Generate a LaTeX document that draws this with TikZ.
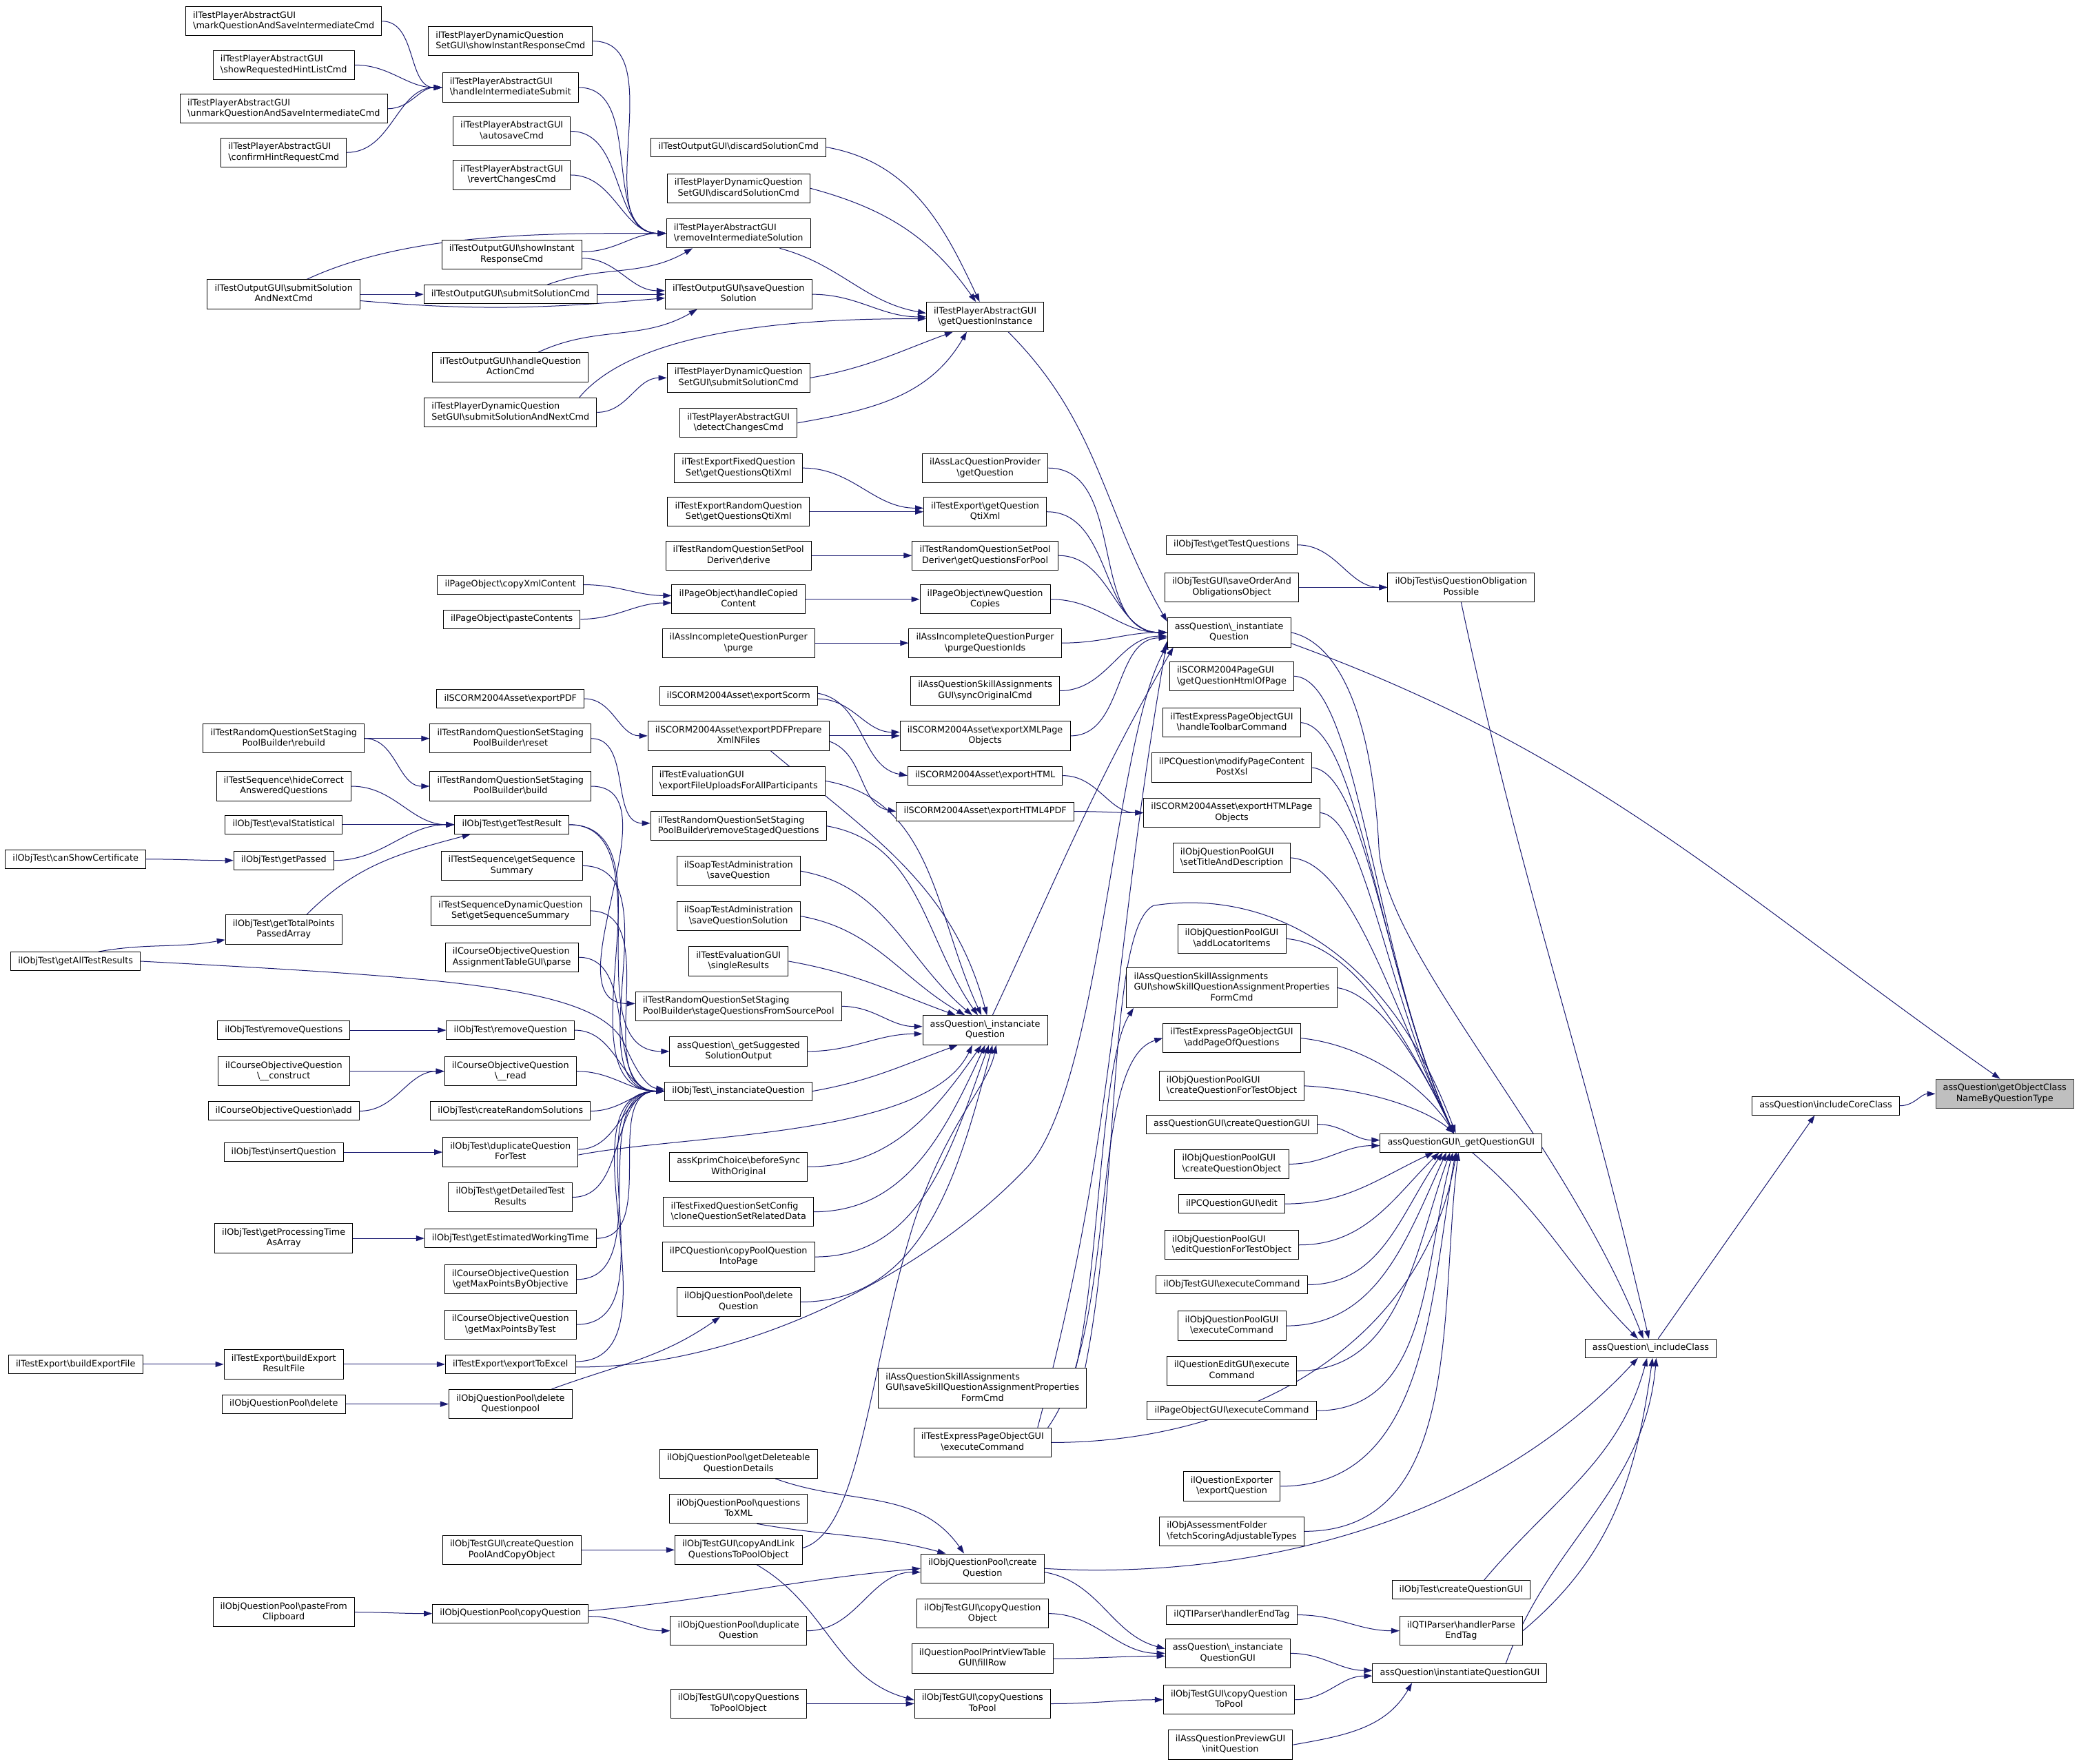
\documentclass[tikz,border=0pt]{standalone}
\usepackage{fontspec}
\setmainfont{DejaVu Sans}
\usetikzlibrary{arrows.meta}
\usetikzlibrary{backgrounds}
\definecolor{callblue}{HTML}{191970}
\definecolor{hitgrey}{HTML}{BFBFBF}
\definecolor{hitedge}{HTML}{404040}
\newcommand{\bsl}{\textbackslash}
\newcommand{\oneline}[1]{\begin{tabular}{@{}c@{}}#1\end{tabular}}
\newcommand{\twolines}[2]{\begin{tabular}{@{}l@{}}#1\\\multicolumn{1}{@{}c@{}}{#2}\end{tabular}}
\newcommand{\threelines}[3]{\begin{tabular}{@{}l@{}}#1\\#2\\\multicolumn{1}{@{}c@{}}{#3}\end{tabular}}

\begin{document}
\begin{tikzpicture}[x=1.443pt, y=-1.443pt,
    fn/.style={draw=black, fill=white, line width=0.75pt, inner xsep=8pt, inner ysep=4.3pt,
      font=\fontsize{9.6}{11.6}\selectfont},
    hit/.style={fn, fill=hitgrey, draw=hitedge},
    call/.style={draw=callblue, line width=0.75pt, -{Triangle[length=9pt,width=6pt]}, out=0, in=180}]
    \useasboundingbox (0, 0) rectangle (1568, 1330);

    % player and output commands
    \node[fn] (mark) at (214, 16) {\twolines{ilTestPlayerAbstractGUI}{\bsl markQuestionAndSaveIntermediateCmd}};
    \node[fn] (showhint) at (214, 49) {\twolines{ilTestPlayerAbstractGUI}{\bsl showRequestedHintListCmd}};
    \node[fn] (unmark) at (214, 82) {\twolines{ilTestPlayerAbstractGUI}{\bsl unmarkQuestionAndSaveIntermediateCmd}};
    \node[fn] (confirm) at (214, 115) {\twolines{ilTestPlayerAbstractGUI}{\bsl confirmHintRequestCmd}};
    \node[fn] (dynshow) at (385, 31) {\twolines{ilTestPlayerDynamicQuestion}{SetGUI\bsl showInstantResponseCmd}};
    \node[fn] (handleim) at (385, 66) {\twolines{ilTestPlayerAbstractGUI}{\bsl handleIntermediateSubmit}};
    \node[fn] (autosave) at (386, 99) {\twolines{ilTestPlayerAbstractGUI}{\bsl autosaveCmd}};
    \node[fn] (revert) at (386, 132) {\twolines{ilTestPlayerAbstractGUI}{\bsl revertChangesCmd}};
    \node[fn] (discard) at (557, 111) {\oneline{ilTestOutputGUI\bsl discardSolutionCmd}};
    \node[fn] (dyndiscard) at (557, 142) {\twolines{ilTestPlayerDynamicQuestion}{SetGUI\bsl discardSolutionCmd}};
    \node[fn] (removeim) at (557, 176) {\twolines{ilTestPlayerAbstractGUI}{\bsl removeIntermediateSolution}};
    \node[fn] (submitnext) at (214, 222) {\twolines{ilTestOutputGUI\bsl submitSolution}{AndNextCmd}};
    \node[fn] (showinst) at (386, 192) {\twolines{ilTestOutputGUI\bsl showInstant}{ResponseCmd}};
    \node[fn] (submitcmd) at (385, 222) {\oneline{ilTestOutputGUI\bsl submitSolutionCmd}};
    \node[fn] (savesol) at (557, 222) {\twolines{ilTestOutputGUI\bsl saveQuestion}{Solution}};
    \node[fn] (getinst) at (743, 239) {\twolines{ilTestPlayerAbstractGUI}{\bsl getQuestionInstance}};
    \node[fn] (handleact) at (385, 277) {\twolines{ilTestOutputGUI\bsl handleQuestion}{ActionCmd}};
    \node[fn] (dynsubnext) at (385, 311) {\twolines{ilTestPlayerDynamicQuestion}{SetGUI\bsl submitSolutionAndNextCmd}};
    \node[fn] (dynsub) at (557, 285) {\twolines{ilTestPlayerDynamicQuestion}{SetGUI\bsl submitSolutionCmd}};
    \node[fn] (detect) at (557, 319) {\twolines{ilTestPlayerAbstractGUI}{\bsl detectChangesCmd}};

    % export, pool deriver, page objects
    \node[fn] (fixedqti) at (557, 353) {\twolines{ilTestExportFixedQuestion}{Set\bsl getQuestionsQtiXml}};
    \node[fn] (lac) at (743, 353) {\twolines{ilAssLacQuestionProvider}{\bsl getQuestion}};
    \node[fn] (randqti) at (557, 386) {\twolines{ilTestExportRandomQuestion}{Set\bsl getQuestionsQtiXml}};
    \node[fn] (getqti) at (743, 386) {\twolines{ilTestExport\bsl getQuestion}{QtiXml}};
    \node[fn] (derive) at (557, 419) {\twolines{ilTestRandomQuestionSetPool}{Deriver\bsl derive}};
    \node[fn] (forpool) at (743, 419) {\twolines{ilTestRandomQuestionSetPool}{Deriver\bsl getQuestionsForPool}};
    \node[fn] (copyxml) at (385, 441) {\oneline{ilPageObject\bsl copyXmlContent}};
    \node[fn] (paste) at (386, 467) {\oneline{ilPageObject\bsl pasteContents}};
    \node[fn] (handlecopied) at (557, 452) {\twolines{ilPageObject\bsl handleCopied}{Content}};
    \node[fn] (newcopies) at (743, 452) {\twolines{ilPageObject\bsl newQuestion}{Copies}};
    \node[fn] (purge) at (557, 485) {\twolines{ilAssIncompleteQuestionPurger}{\bsl purge}};
    \node[fn] (purgeids) at (743, 485) {\twolines{ilAssIncompleteQuestionPurger}{\bsl purgeQuestionIds}};
    \node[fn] (sync) at (743, 521) {\twolines{ilAssQuestionSkillAssignments}{GUI\bsl syncOriginalCmd}};
    \node[fn] (instq) at (927, 477) {\twolines{assQuestion\bsl\_instantiate}{Question}};
    \node[fn] (gettestq) at (929, 411) {\oneline{ilObjTest\bsl getTestQuestions}};
    \node[fn] (saveorder) at (929, 443) {\twolines{ilObjTestGUI\bsl saveOrderAnd}{ObligationsObject}};
    \node[fn] (obligation) at (1102, 443) {\twolines{ilObjTest\bsl isQuestionObligation}{Possible}};

    % scorm
    \node[fn] (exportpdf) at (385, 527) {\oneline{ilSCORM2004Asset\bsl exportPDF}};
    \node[fn] (exportscorm) at (557, 525) {\oneline{ilSCORM2004Asset\bsl exportScorm}};
    \node[fn] (pdfprepare) at (557, 555) {\twolines{ilSCORM2004Asset\bsl exportPDFPrepare}{XmlNFiles}};
    \node[fn] (xmlpage) at (743, 555) {\twolines{ilSCORM2004Asset\bsl exportXMLPage}{Objects}};
    \node[fn] (exporthtml) at (743, 585) {\oneline{ilSCORM2004Asset\bsl exportHTML}};
    \node[fn] (html4pdf) at (743, 612) {\oneline{ilSCORM2004Asset\bsl exportHTML4PDF}};
    \node[fn] (htmlpage) at (929, 613) {\twolines{ilSCORM2004Asset\bsl exportHTMLPage}{Objects}};
    \node[fn] (scormpage) at (929, 510) {\twolines{ilSCORM2004PageGUI}{\bsl getQuestionHtmlOfPage}};
    \node[fn] (toolbar) at (929, 545) {\twolines{ilTestExpressPageObjectGUI}{\bsl handleToolbarCommand}};
    \node[fn] (modify) at (929, 579) {\twolines{ilPCQuestion\bsl modifyPageContent}{PostXsl}};
    \node[fn] (settitle) at (929, 647) {\twolines{ilObjQuestionPoolGUI}{\bsl setTitleAndDescription}};

    % test results, staging pool
    \node[fn] (rebuild) at (214, 557) {\twolines{ilTestRandomQuestionSetStaging}{PoolBuilder\bsl rebuild}};
    \node[fn] (reset) at (385, 557) {\twolines{ilTestRandomQuestionSetStaging}{PoolBuilder\bsl reset}};
    \node[fn] (hidecorrect) at (214, 593) {\twolines{ilTestSequence\bsl hideCorrect}{AnsweredQuestions}};
    \node[fn] (build) at (385, 593) {\twolines{ilTestRandomQuestionSetStaging}{PoolBuilder\bsl build}};
    \node[fn] (evalstat) at (214, 622) {\oneline{ilObjTest\bsl evalStatistical}};
    \node[fn] (testresult) at (386, 622) {\oneline{ilObjTest\bsl getTestResult}};
    \node[fn] (certificate) at (57, 648) {\oneline{ilObjTest\bsl canShowCertificate}};
    \node[fn] (passed) at (214, 649) {\oneline{ilObjTest\bsl getPassed}};
    \node[fn] (totalpoints) at (214, 701) {\twolines{ilObjTest\bsl getTotalPoints}{PassedArray}};
    \node[fn] (alltestresults) at (57, 725) {\oneline{ilObjTest\bsl getAllTestResults}};
    \node[fn] (uploads) at (557, 589) {\twolines{ilTestEvaluationGUI}{\bsl exportFileUploadsForAllParticipants}};
    \node[fn] (removestaged) at (557, 623) {\twolines{ilTestRandomQuestionSetStaging}{PoolBuilder\bsl removeStagedQuestions}};
    \node[fn] (seqsummary) at (386, 653) {\twolines{ilTestSequence\bsl getSequence}{Summary}};
    \node[fn] (dynseqsummary) at (385, 687) {\twolines{ilTestSequenceDynamicQuestion}{Set\bsl getSequenceSummary}};
    \node[fn] (courseparse) at (386, 722) {\twolines{ilCourseObjectiveQuestion}{AssignmentTableGUI\bsl parse}};
    \node[fn] (soapsave) at (557, 657) {\twolines{ilSoapTestAdministration}{\bsl saveQuestion}};
    \node[fn] (soapsavesol) at (557, 691) {\twolines{ilSoapTestAdministration}{\bsl saveQuestionSolution}};
    \node[fn] (singleres) at (557, 725) {\twolines{ilTestEvaluationGUI}{\bsl singleResults}};
    \node[fn] (stage) at (557, 759) {\twolines{ilTestRandomQuestionSetStaging}{PoolBuilder\bsl stageQuestionsFromSourcePool}};
    \node[fn] (suggested) at (557, 793) {\twolines{assQuestion\bsl\_getSuggested}{SolutionOutput}};
    \node[fn] (instanciq) at (743, 777) {\twolines{assQuestion\bsl\_instanciate}{Question}};
    \node[fn] (removeqs) at (214, 777) {\oneline{ilObjTest\bsl removeQuestions}};
    \node[fn] (removeq) at (385, 777) {\oneline{ilObjTest\bsl removeQuestion}};
    \node[fn] (courseconstruct) at (214, 808) {\twolines{ilCourseObjectiveQuestion}{\bsl\_\_construct}};
    \node[fn] (courseread) at (385, 808) {\twolines{ilCourseObjectiveQuestion}{\bsl\_\_read}};
    \node[fn] (courseadd) at (214, 838) {\oneline{ilCourseObjectiveQuestion\bsl add}};
    \node[fn] (randomsol) at (385, 838) {\oneline{ilObjTest\bsl createRandomSolutions}};
    \node[fn] (testinstanciate) at (557, 823) {\oneline{ilObjTest\bsl\_instanciateQuestion}};
    \node[fn] (insertq) at (214, 869) {\oneline{ilObjTest\bsl insertQuestion}};
    \node[fn] (duplicatefortest) at (385, 869) {\twolines{ilObjTest\bsl duplicateQuestion}{ForTest}};
    \node[fn] (kprim) at (557, 880) {\twolines{assKprimChoice\bsl beforeSync}{WithOriginal}};
    \node[fn] (detailed) at (385, 903) {\twolines{ilObjTest\bsl getDetailedTest}{Results}};
    \node[fn] (fixedclone) at (557, 914) {\twolines{ilTestFixedQuestionSetConfig}{\bsl cloneQuestionSetRelatedData}};
    \node[fn] (proctime) at (214, 934) {\twolines{ilObjTest\bsl getProcessingTime}{AsArray}};
    \node[fn] (worktime) at (385, 934) {\oneline{ilObjTest\bsl getEstimatedWorkingTime}};
    \node[fn] (copypoolq) at (557, 948) {\twolines{ilPCQuestion\bsl copyPoolQuestion}{IntoPage}};
    \node[fn] (maxobjective) at (385, 965) {\twolines{ilCourseObjectiveQuestion}{\bsl getMaxPointsByObjective}};
    \node[fn] (deleteq) at (557, 982) {\twolines{ilObjQuestionPool\bsl delete}{Question}};
    \node[fn] (maxtest) at (385, 999) {\twolines{ilCourseObjectiveQuestion}{\bsl getMaxPointsByTest}};
    \node[fn] (buildfile) at (57, 1029) {\oneline{ilTestExport\bsl buildExportFile}};
    \node[fn] (buildresult) at (214, 1029) {\twolines{ilTestExport\bsl buildExport}{ResultFile}};
    \node[fn] (toexcel) at (385, 1029) {\oneline{ilTestExport\bsl exportToExcel}};
    \node[fn] (pooldelete) at (214, 1059) {\oneline{ilObjQuestionPool\bsl delete}};
    \node[fn] (deletepool) at (385, 1059) {\twolines{ilObjQuestionPool\bsl delete}{Questionpool}};

    % question GUI callers
    \node[fn] (locator) at (929, 708) {\twolines{ilObjQuestionPoolGUI}{\bsl addLocatorItems}};
    \node[fn] (showskill) at (929, 745) {\threelines{ilAssQuestionSkillAssignments}{GUI\bsl showSkillQuestionAssignmentProperties}{FormCmd}};
    \node[fn] (addpage) at (929, 783) {\twolines{ilTestExpressPageObjectGUI}{\bsl addPageOfQuestions}};
    \node[fn] (createfortest) at (929, 819) {\twolines{ilObjQuestionPoolGUI}{\bsl createQuestionForTestObject}};
    \node[fn] (createqgui) at (929, 848) {\oneline{assQuestionGUI\bsl createQuestionGUI}};
    \node[fn] (createobj) at (929, 878) {\twolines{ilObjQuestionPoolGUI}{\bsl createQuestionObject}};
    \node[fn] (pcedit) at (929, 908) {\oneline{ilPCQuestionGUI\bsl edit}};
    \node[fn] (editfortest) at (929, 939) {\twolines{ilObjQuestionPoolGUI}{\bsl editQuestionForTestObject}};
    \node[fn] (testguiexec) at (929, 969) {\oneline{ilObjTestGUI\bsl executeCommand}};
    \node[fn] (poolguiexec) at (929, 1000) {\twolines{ilObjQuestionPoolGUI}{\bsl executeCommand}};
    \node[fn] (editguiexec) at (929, 1034) {\twolines{ilQuestionEditGUI\bsl execute}{Command}};
    \node[fn] (pageguiexec) at (929, 1064) {\oneline{ilPageObjectGUI\bsl executeCommand}};
    \node[fn] (getqgui) at (1102, 862) {\oneline{assQuestionGUI\bsl\_getQuestionGUI}};
    \node[fn] (saveskill) at (741, 1047) {\threelines{ilAssQuestionSkillAssignments}{GUI\bsl saveSkillQuestionAssignmentProperties}{FormCmd}};
    \node[fn] (expressexec) at (741, 1088) {\twolines{ilTestExpressPageObjectGUI}{\bsl executeCommand}};
    \node[fn] (exporter) at (929, 1121) {\twolines{ilQuestionExporter}{\bsl exportQuestion}};
    \node[fn] (scoring) at (929, 1155) {\twolines{ilObjAssessmentFolder}{\bsl fetchScoringAdjustableTypes}};
    \node[fn] (include) at (1245, 1017) {\oneline{assQuestion\bsl\_includeClass}};
    \node[fn] (corecls) at (1377, 834) {\oneline{assQuestion\bsl includeCoreClass}};
    \node[hit] (target) at (1512, 825) {\twolines{assQuestion\bsl getObjectClass}{NameByQuestionType}};

    % question pool
    \node[fn] (deleteable) at (557, 1104) {\twolines{ilObjQuestionPool\bsl getDeleteable}{QuestionDetails}};
    \node[fn] (toxml) at (557, 1138) {\twolines{ilObjQuestionPool\bsl questions}{ToXML}};
    \node[fn] (createpool) at (386, 1169) {\twolines{ilObjTestGUI\bsl createQuestion}{PoolAndCopyObject}};
    \node[fn] (copylink) at (557, 1169) {\twolines{ilObjTestGUI\bsl copyAndLink}{QuestionsToPoolObject}};
    \node[fn] (createq) at (741, 1183) {\twolines{ilObjQuestionPool\bsl create}{Question}};
    \node[fn] (pastefrom) at (214, 1216) {\twolines{ilObjQuestionPool\bsl pasteFrom}{Clipboard}};
    \node[fn] (copyq) at (385, 1217) {\oneline{ilObjQuestionPool\bsl copyQuestion}};
    \node[fn] (duplicateq) at (557, 1230) {\twolines{ilObjQuestionPool\bsl duplicate}{Question}};
    \node[fn] (copyqobj) at (741, 1217) {\twolines{ilObjTestGUI\bsl copyQuestion}{Object}};
    \node[fn] (printview) at (741, 1251) {\twolines{ilQuestionPoolPrintViewTable}{GUI\bsl fillRow}};
    \node[fn] (topoolobj) at (557, 1285) {\twolines{ilObjTestGUI\bsl copyQuestions}{ToPoolObject}};
    \node[fn] (topool) at (741, 1285) {\twolines{ilObjTestGUI\bsl copyQuestions}{ToPool}};
    \node[fn] (instanciqgui) at (926, 1247) {\twolines{assQuestion\bsl\_instanciate}{QuestionGUI}};
    \node[fn] (copyqtopool) at (927, 1282) {\twolines{ilObjTestGUI\bsl copyQuestion}{ToPool}};
    \node[fn] (preview) at (928, 1316) {\twolines{ilAssQuestionPreviewGUI}{\bsl initQuestion}};
    \node[fn] (testcreategui) at (1102, 1199) {\oneline{ilObjTest\bsl createQuestionGUI}};
    \node[fn] (endtag) at (929, 1218) {\oneline{ilQTIParser\bsl handlerEndTag}};
    \node[fn] (parseend) at (1102, 1230) {\twolines{ilQTIParser\bsl handlerParse}{EndTag}};
    \node[fn] (instgui) at (1101, 1262) {\oneline{assQuestion\bsl instantiateQuestionGUI}};

    \begin{scope}[on background layer]
    \fill[white] (0, 0) rectangle (1568, 1330);

    % player and output commands
    \draw[call] (mark.east) to (handleim.west);
    \draw[call] (showhint.east) to (handleim.west);
    \draw[call] (unmark.east) to (handleim.west);
    \draw[call] (confirm.east) to (handleim.west);
    \draw[call] (handleim.east) to (removeim.west);
    \draw[call] (dynshow.east) to (removeim.west);
    \draw[call] (autosave.east) to (removeim.west);
    \draw[call] (revert.east) to (removeim.west);
    \draw[call] ([xshift=25pt]submitnext.north) to[out=25, in=180, looseness=0.8] (removeim.west);
    \draw[call] ([yshift=3pt]showinst.east) to (removeim.west);
    \draw[call] ([xshift=40pt]submitcmd.north) to[out=20, in=-150] ([xshift=-50pt]removeim.south);
    \draw[call] ([yshift=-4pt]showinst.east) to ([yshift=4pt]savesol.west);
    \draw[call] (submitnext.east) to (submitcmd.west);
    \draw[call] (submitcmd.east) to (savesol.west);
    \draw[call] ([yshift=-7pt]submitnext.east) to[out=-5, in=185] ([yshift=-4pt]savesol.west);
    \draw[call] ([xshift=30pt]handleact.north) to[out=25, in=-150] ([xshift=-45pt]savesol.south);
    \draw[call] (dynsubnext.east) to (dynsub.west);
    \draw[call] ([xshift=75pt]dynsubnext.north) to[out=50, in=180, looseness=0.7] ([yshift=-2pt]getinst.west);
    \draw[call] (discard.east) to[out=-10, in=115] ([xshift=-6pt]getinst.north);
    \draw[call] (dyndiscard.east) to[out=-15, in=125] ([xshift=-10pt]getinst.north);
    \draw[call] (removeim.-20) to[out=-15, in=170] ([yshift=4pt]getinst.west);
    \draw[call] (savesol.east) to (getinst.west);
    \draw[call] (dynsub.east) to[out=10, in=-160] ([xshift=-35pt]getinst.south);
    \draw[call] (detect.east) to[out=10, in=-120] ([xshift=-20pt]getinst.south);
    \draw[call] ([xshift=25pt]getinst.south) to[out=-45, in=120] (instq.170);

    % export, pool deriver, page objects
    \draw[call] (fixedqti.east) to ([yshift=4pt]getqti.west);
    \draw[call] (randqti.east) to (getqti.west);
    \draw[call] (derive.east) to (forpool.west);
    \draw[call] (copyxml.east) to ([yshift=4pt]handlecopied.west);
    \draw[call] (paste.east) to ([yshift=-4pt]handlecopied.west);
    \draw[call] (handlecopied.east) to (newcopies.west);
    \draw[call] (purge.east) to (purgeids.west);
    \draw[call] (lac.east) to (instq.west);
    \draw[call] (getqti.east) to (instq.west);
    \draw[call] (forpool.east) to (instq.west);
    \draw[call] (newcopies.east) to (instq.west);
    \draw[call] (purgeids.east) to (instq.west);
    \draw[call] (sync.east) to ([yshift=-4pt]instq.west);
    \draw[call] (xmlpage.east) to ([yshift=-6pt]instq.west);
    \draw[call] ([xshift=8pt]instanciq.north) to[out=65, in=-120] (instq.-165);
    \draw[call] ([yshift=-3pt]toexcel.east) .. controls (560, 1032) and (700, 960) .. (775, 880)
      .. controls (830, 820) and (840, 560) .. (instq.-168);
    \draw[call] ([xshift=60pt]expressexec.north) to[out=75, in=-100] (instq.-172);
    \draw[call] (gettestq.east) to (obligation.west);
    \draw[call] (saveorder.east) to (obligation.west);
    \draw[call] (obligation.south) to[out=-78, in=103] ([xshift=-2pt]include.north);
    \draw[call] (instq.-10) to[out=-20, in=145] ([xshift=-5pt]target.north);
    \draw[call] (instq.east) .. controls (1010, 485) and (1035, 540) .. (1040, 640)
      .. controls (1045, 720) and (1180, 860) .. ([xshift=-8pt]include.north);

    % scorm
    \draw[call] (exportpdf.east) to (pdfprepare.west);
    \draw[call] (pdfprepare.east) to (xmlpage.west);
    \draw[call] ([yshift=-6pt]pdfprepare.east) to[out=-20, in=170] (html4pdf.west);
    \draw[call] (pdfprepare.-25) to[out=-40, in=105] ([xshift=2pt]instanciq.north);
    \draw[call] ([yshift=-3pt]exportscorm.east) to ([yshift=4pt]xmlpage.west);
    \draw[call] ([yshift=3pt]exportscorm.east) to[out=-10, in=170] (exporthtml.west);
    \draw[call] (exporthtml.east) to (htmlpage.west);
    \draw[call] (html4pdf.east) to (htmlpage.west);

    % to _getQuestionGUI from above
    \draw[call] (scormpage.east) .. controls (1025, 512) and (1035, 720) .. ([xshift=-8pt]getqgui.north);
    \draw[call] (toolbar.east) .. controls (1025, 548) and (1040, 730) .. ([xshift=-8pt]getqgui.north);
    \draw[call] (modify.east) .. controls (1030, 582) and (1045, 740) .. ([xshift=-8pt]getqgui.north);
    \draw[call] (htmlpage.east) .. controls (1030, 616) and (1045, 750) .. ([xshift=-8pt]getqgui.north);
    \draw[call] (settitle.east) .. controls (1020, 650) and (1050, 760) .. ([xshift=-8pt]getqgui.north);
    \draw[call] (locator.east) .. controls (1020, 712) and (1060, 780) .. ([xshift=-8pt]getqgui.north);
    \draw[call] (showskill.east) .. controls (1040, 750) and (1070, 800) .. ([xshift=-8pt]getqgui.north);
    \draw[call] (addpage.east) .. controls (1030, 788) and (1075, 820) .. ([xshift=-8pt]getqgui.north);
    \draw[call] (createfortest.east) .. controls (1040, 822) and (1080, 840) .. ([xshift=-8pt]getqgui.north);
    \draw[call] ([xshift=-2pt]saveskill.north east) .. controls (845, 900) and (835, 700) .. (870, 683)
      .. controls (940, 672) and (1040, 700) .. ([xshift=-6pt]getqgui.north);
    \draw[call] ([xshift=-12pt]saveskill.north east) .. controls (830, 950) and (830, 800) .. ([xshift=8pt]showskill.south west);
    \draw[call] ([xshift=-4pt]expressexec.north east) .. controls (845, 1000) and (820, 800) .. (addpage.west);

    % to _getQuestionGUI from the side and below
    \draw[call] (createqgui.east) to ([yshift=3pt]getqgui.west);
    \draw[call] (createobj.east) to ([yshift=-3pt]getqgui.west);
    \draw[call] (pcedit.east) to[out=0, in=-155] ([xshift=-30pt]getqgui.south);
    \draw[call] (editfortest.east) to[out=0, in=-135] ([xshift=-24pt]getqgui.south);
    \draw[call] (testguiexec.east) to[out=0, in=-125] ([xshift=-20pt]getqgui.south);
    \draw[call] (poolguiexec.east) to[out=0, in=-115] ([xshift=-16pt]getqgui.south);
    \draw[call] (editguiexec.east) to[out=0, in=-110] ([xshift=-12pt]getqgui.south);
    \draw[call] (pageguiexec.east) to[out=0, in=-105] ([xshift=-9pt]getqgui.south);
    \draw[call] (exporter.east) to[out=0, in=-100] ([xshift=-6pt]getqgui.south);
    \draw[call] (scoring.east) to[out=0, in=-97] ([xshift=-3pt]getqgui.south);
    \draw[call] (expressexec.east) to[out=0, in=-100] ([xshift=-5pt]getqgui.south);

    % test results, staging pool
    \draw[call] (certificate.east) to (passed.west);
    \draw[call] (passed.east) to (testresult.west);
    \draw[call] (evalstat.east) to (testresult.west);
    \draw[call] (hidecorrect.east) to (testresult.west);
    \draw[call] ([xshift=25pt]totalpoints.north) to[out=45, in=-165] ([xshift=-45pt]testresult.south);
    \draw[call] ([xshift=25pt]alltestresults.north) to[out=10, in=190] (totalpoints.190);
    \draw[call] (alltestresults.east) .. controls (350, 738) and (455, 745) .. (472, 790)
      .. controls (480, 808) and (488, 820) .. ([yshift=2pt]testinstanciate.west);
    \draw[call] (rebuild.east) to (reset.west);
    \draw[call] (rebuild.east) to (build.west);
    \draw[call] (reset.east) to ([yshift=3pt]removestaged.west);
    \draw[call] (build.east) to ([yshift=3pt]stage.west);
    \draw[call] (testresult.east) to (testinstanciate.west);
    \draw[call] (testresult.east) to (suggested.west);
    \draw[call] (seqsummary.east) to (testinstanciate.west);
    \draw[call] (dynseqsummary.east) to (testinstanciate.west);
    \draw[call] (courseparse.east) to (testinstanciate.west);
    \draw[call] (removeqs.east) to (removeq.west);
    \draw[call] (removeq.east) to (testinstanciate.west);
    \draw[call] (courseconstruct.east) to (courseread.west);
    \draw[call] (courseadd.east) to (courseread.west);
    \draw[call] (courseread.east) to (testinstanciate.west);
    \draw[call] (randomsol.east) to (testinstanciate.west);
    \draw[call] (insertq.east) to (duplicatefortest.west);
    \draw[call] ([yshift=3pt]duplicatefortest.east) to (testinstanciate.west);
    \draw[call] ([yshift=-3pt]duplicatefortest.east) .. controls (520, 855) and (700, 858) .. ([xshift=-14pt]instanciq.south);
    \draw[call] (detailed.east) to (testinstanciate.west);
    \draw[call] (proctime.east) to (worktime.west);
    \draw[call] (worktime.east) to (testinstanciate.west);
    \draw[call] (maxobjective.east) to (testinstanciate.west);
    \draw[call] (maxtest.east) to (testinstanciate.west);
    \draw[call] ([yshift=3pt]toexcel.east) to (testinstanciate.west);
    \draw[call] (buildfile.east) to (buildresult.west);
    \draw[call] (buildresult.east) to (toexcel.west);
    \draw[call] (pooldelete.east) to (deletepool.west);
    \draw[call] (deletepool.20) to[out=20, in=-145] ([xshift=-20pt]deleteq.south);

    % to _instanciateQuestion
    \draw[call] (uploads.east) to[out=-10, in=115] ([xshift=-4pt]instanciq.north);
    \draw[call] (removestaged.east) to[out=-10, in=125] ([xshift=-8pt]instanciq.north);
    \draw[call] (soapsave.east) to[out=-10, in=140] ([xshift=-14pt]instanciq.north);
    \draw[call] (soapsavesol.east) to[out=-10, in=150] ([xshift=-22pt]instanciq.north);
    \draw[call] (singleres.east) to[out=-10, in=160] ([xshift=-32pt]instanciq.north);
    \draw[call] (stage.east) to ([yshift=4pt]instanciq.west);
    \draw[call] (suggested.east) to ([yshift=-4pt]instanciq.west);
    \draw[call] (testinstanciate.east) to[out=10, in=-160] ([xshift=-30pt]instanciq.south);
    \draw[call] (kprim.east) to[out=0, in=-125] ([xshift=-4pt]instanciq.south);
    \draw[call] (fixedclone.east) to[out=0, in=-115] (instanciq.south);
    \draw[call] (copypoolq.east) to[out=0, in=-110] ([xshift=4pt]instanciq.south);
    \draw[call] (deleteq.east) to[out=0, in=-105] ([xshift=8pt]instanciq.south);
    \draw[call] ([yshift=2pt]copylink.east) .. controls (650, 1155) and (655, 1030) .. (690, 920)
      .. controls (715, 845) and (745, 820) .. ([xshift=12pt]instanciq.south);

    % question pool
    \draw[call] ([xshift=40pt]deleteable.south) to[out=-20, in=125] ([xshift=-20pt]createq.north);
    \draw[call] ([xshift=20pt]toxml.south) to[out=-10, in=165] ([xshift=-40pt]createq.north);
    \draw[call] (createpool.east) to (copylink.west);
    \draw[call] ([xshift=20pt]copylink.south) to[out=-30, in=165] ([yshift=4pt]topool.west);
    \draw[call] (pastefrom.east) to (copyq.west);
    \draw[call] ([yshift=3pt]copyq.east) to[out=5, in=185] (createq.west);
    \draw[call] ([yshift=-3pt]copyq.east) to (duplicateq.west);
    \draw[call] (duplicateq.east) to ([yshift=-4pt]createq.west);
    \draw[call] (topoolobj.east) to (topool.west);
    \draw[call] ([yshift=-4pt]createq.east) to[out=-10, in=165] ([yshift=5pt]instanciqgui.west);
    \draw[call] (createq.east) .. controls (900, 1190) and (1100, 1170) .. ([xshift=-14pt]include.south);
    \draw[call] (copyqobj.east) to (instanciqgui.west);
    \draw[call] (printview.east) to ([yshift=-3pt]instanciqgui.west);
    \draw[call] (topool.east) to (copyqtopool.west);
    \draw[call] (instanciqgui.east) to ([yshift=3pt]instgui.west);
    \draw[call] (copyqtopool.east) to ([yshift=-3pt]instgui.west);
    \draw[call] (preview.east) to[out=10, in=-120] ([xshift=-52pt]instgui.south);
    \draw[call] (endtag.east) to (parseend.west);
    \draw[call] ([xshift=25pt]testcreategui.north) to[out=50, in=-105] ([xshift=-4pt]include.south);
    \draw[call] (parseend.east) to[out=40, in=-98] ([xshift=2pt]include.south);
    \draw[call] ([xshift=50pt]instgui.north) to[out=70, in=-95] ([xshift=6pt]include.south);
    \draw[call] ([xshift=12pt]getqgui.south) to[out=-40, in=135] ([xshift=-14pt]include.north);
    \draw[call] ([xshift=8pt]include.north) to[out=55, in=-125] ([xshift=-12pt]corecls.south);
    \draw[call] (corecls.east) to (target.west);
    \end{scope}

\end{tikzpicture}
\end{document}
